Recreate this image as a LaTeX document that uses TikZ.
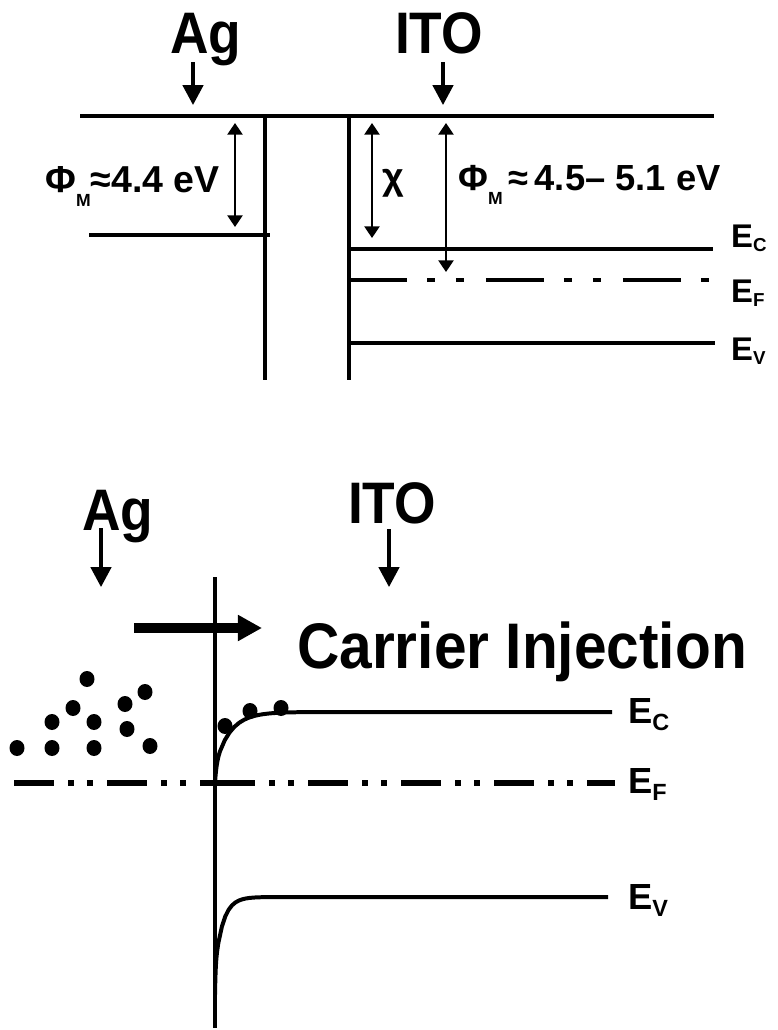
\documentclass[tikz,border=0pt]{standalone}
\usepackage{fontspec}
\setmainfont{Liberation Sans}
\newfontfamily\condfont[FakeStretch=0.91]{Liberation Sans}
\usetikzlibrary{arrows.meta}

\def\MetalSize{50}
\def\PhiSize{32}
\def\LevSize{28}
\def\LevSizeB{31}

% lowered subscript: shift, size, text
\newcommand{\levsub}[3]{\raisebox{-#1}{\fontsize{#2}{#2}\selectfont #3}}

\begin{document}
\begin{tikzpicture}[x=0.03cm,y=-0.03cm,
    level/.style={line width=3.4pt},
    wall/.style={line width=2.6pt},
    fermi/.style={line width=3.4pt,dash pattern=on 49.5pt off 17.1pt on 6.8pt off 17.9pt on 6.8pt off 18.8pt},
    fermiB/.style={line width=4.3pt,dash pattern=on 34.1pt off 12pt on 5.1pt off 11.1pt on 5.1pt off 12pt},
    pointer/.style={-{Triangle[length=17pt,width=17.5pt]},line width=2.6pt},
    span/.style={{Triangle[length=10pt,width=13pt]}-{Triangle[length=10pt,width=13pt]},line width=1.7pt},
    metal/.style={font=\condfont\bfseries\fontsize{\MetalSize}{\MetalSize}\selectfont,inner sep=0pt,anchor=base},
    philbl/.style={font=\bfseries\fontsize{\PhiSize}{\PhiSize}\selectfont,inner sep=0pt,anchor=base west},
    elbl/.style={font=\bfseries\fontsize{\LevSize}{\LevSize}\selectfont,inner sep=0pt,anchor=base west},
    elblB/.style={font=\bfseries\fontsize{\LevSizeB}{\LevSizeB}\selectfont,inner sep=0pt,anchor=base west}
]

\useasboundingbox (0,0) rectangle (777,1030);

% =====================================================
% BEFORE CONTACT
% =====================================================
\node[metal] (agA) at (206,53) {Ag};
\node[metal] (itoA) at (439,53) {ITO};

\coordinate (agA1) at (193,62);  \coordinate (agA2) at (193,105);
\coordinate (itoA1) at (443,62); \coordinate (itoA2) at (443,105);
\draw[pointer] (agA1) -- (agA2);
\draw[pointer] (itoA1) -- (itoA2);

% vacuum level and interfaces
\coordinate (vacL) at (80,116);  \coordinate (vacR) at (714,116);
\draw[level] (vacL) -- (vacR);
\draw[wall] (265,116) -- (265,380);
\draw[wall] (349,116) -- (349,380);

% Ag Fermi level
\coordinate (agF1) at (89,235); \coordinate (agF2) at (270,235);
\draw[level] (agF1) -- (agF2);

% ITO bands
\coordinate (ecA1) at (349,249); \coordinate (ecA2) at (713,249);
\coordinate (efA1) at (349,280); \coordinate (efA2) at (713,280);
\coordinate (evA1) at (349,343); \coordinate (evA2) at (715,343);
\draw[level] (ecA1) -- (ecA2);
\draw[fermi] (efA1) -- (efA2);
\draw[level] (evA1) -- (evA2);

\node[elbl] (ecLblA) at (731,247) {E\levsub{4pt}{16}{C}};
\node[elbl] (efLblA) at (731,302) {E\levsub{4pt}{16}{F}};
\node[elbl] (evLblA) at (731,360) {E\levsub{4pt}{16}{V}};

% work functions and affinity
\coordinate (phiAg1) at (235,123); \coordinate (phiAg2) at (235,227);
\draw[span] (phiAg1) -- (phiAg2);
\node[philbl] (phiAgLbl) at (45,192) {Φ\levsub{12pt}{15}{M}≈4.4 eV};

\coordinate (chi1) at (372,123); \coordinate (chi2) at (372,238);
\draw[span] (chi1) -- (chi2);
\node[font=\bfseries\fontsize{\PhiSize}{\PhiSize}\selectfont,inner sep=0pt] (chiLbl) at (393,183) {χ};

\coordinate (phiIto1) at (446,123); \coordinate (phiIto2) at (446,272);
\draw[span] (phiIto1) -- (phiIto2);
\node[philbl,font=\bfseries\fontsize{31}{31}\selectfont] (phiItoLbl) at (458,190) {Φ\levsub{12pt}{15}{M}\,≈\,4.5– 5.1 eV};

% =====================================================
% AFTER CONTACT
% =====================================================
\node[metal] (agB) at (118,530) {Ag};
\node[metal] (itoB) at (392,523) {ITO};

\coordinate (agB1) at (101,528);  \coordinate (agB2) at (101,587);
\coordinate (itoB1) at (389,529); \coordinate (itoB2) at (389,587);
\draw[pointer] (agB1) -- (agB2);
\draw[pointer] (itoB1) -- (itoB2);

% interface
\draw[wall] (215,577) -- (215,1028);

% injection arrow
\coordinate (inj1) at (134,628); \coordinate (inj2) at (262,628);
\draw[line width=8.5pt,-{Triangle[length=20.5pt,width=21pt]}] (inj1) -- (inj2);
\node[font=\condfont\bfseries\fontsize{55}{55}\selectfont,inner sep=0pt,anchor=base west] (injLbl) at (297,668) {Carrier Injection};

% Fermi level (common)
\draw[fermiB] (14,783) -- (215,783);
\draw[fermiB] (215,783) -- (615,783);

% bent bands
\draw[level] plot[samples at={0,0.2,...,4,5,...,90}] ({215+\x},{712+54*exp(-\x/15)+17*exp(-\x/1.5)}) -- (612,712);
\draw[level] plot[samples at={0,0.1,...,3,3.5,...,70}] ({215+\x},{897+70*exp(-\x/8)+28*exp(-\x/0.6)}) -- (608,897);

\node[elblB] (ecLblB) at (628,723) {E\levsub{6pt}{20}{C}};
\node[elblB] (efLblB) at (628,793) {E\levsub{6pt}{20}{F}};
\node[elblB] (evLblB) at (628,909) {E\levsub{6pt}{20}{V}};

% electrons
\foreach \ex/\ey in {17/748,52/748,94/748,150/746,52/722,94/722,127/729,
                     73/708,125/704,145/692,87/679,225/726,250/711,281/708} {
    \fill (\ex,\ey) ellipse [x radius=7.5, y radius=8];
}

\end{tikzpicture}
\end{document}
